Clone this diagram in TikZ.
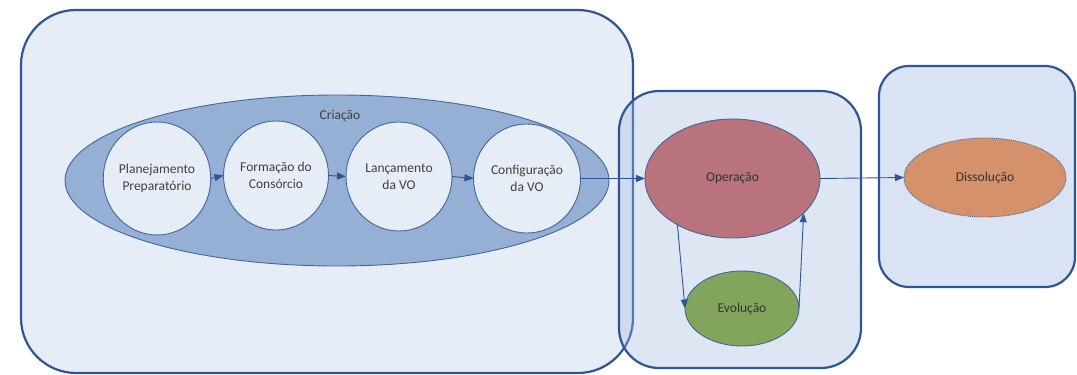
\documentclass[tikz,border=0pt]{standalone}
\usepackage{fontspec}
\setmainfont{Carlito}
\usetikzlibrary{shapes.geometric,arrows.meta}
\definecolor{frame}{HTML}{2F5597}
\definecolor{boxone}{HTML}{E7EDF7}
\definecolor{boxtint}{HTML}{A1B8E0}
\definecolor{boxthree}{HTML}{DAE3F3}
\definecolor{phase}{HTML}{95B0D4}
\definecolor{edge}{HTML}{41679C}
\definecolor{stepfill}{HTML}{E7EDF7}
\definecolor{opfill}{HTML}{B8737C}
\definecolor{evofill}{HTML}{82A55B}
\definecolor{disfill}{HTML}{D4916A}
\definecolor{txt}{HTML}{404040}
\tikzset{
  stage/.style={draw=frame, line width=2.2pt, rectangle, inner sep=0pt, outer sep=0pt},
  blob/.style={ellipse, draw=edge, line width=0.9pt, inner sep=0pt, outer sep=0pt,
    text=txt, align=center, font=\fontsize{13.5}{16.5}\selectfont},
  stepnode/.style={blob, fill=stepfill},
  flow/.style={draw=frame, line width=0.9pt, -{Triangle[length=9pt,width=7pt]}},
}
\begin{document}
\begin{tikzpicture}[x=1pt,y=-1pt]
\useasboundingbox (0,0) rectangle (1077,375);
% phase containers
\node[stage, fill=boxone, rounded corners=55pt, minimum width=612pt, minimum height=363pt] (criacaobox) at (327,191.5) {};
\node[stage, fill=boxtint, fill opacity=0.35, rounded corners=40pt, minimum width=242pt, minimum height=277pt] (opbox) at (740,229.5) {};
\node[stage, fill=boxthree, rounded corners=30pt, minimum width=196pt, minimum height=221pt] (disbox) at (977,176.5) {};
% creation phase
\node[blob, fill=phase, draw=edge, minimum width=544pt, minimum height=171pt] (criacao) at (337,180.5) {};
\node[text=txt, font=\fontsize{13.5}{16.5}\selectfont] (criacaolbl) at (340,116) {Criação};
\node[stepnode, minimum width=107pt, minimum height=113pt] (c1) at (157,178.5) {Planejamento\\Preparatório};
\node[stepnode, minimum width=105pt, minimum height=109pt] (c2) at (276,175.5) {Formação do\\Consórcio};
\node[stepnode, minimum width=106pt, minimum height=109pt] (c3) at (399,176.5) {Lançamento\\da VO};
\node[stepnode, minimum width=107pt, minimum height=109pt] (c4) at (527,178.5) {Configuração\\da VO};
% operation and dissolution
\node[blob, fill=opfill, minimum width=175pt, minimum height=119pt, text=black!80] (op) at (732.5,178.5) {Operação};
\node[blob, fill=evofill, minimum width=114pt, minimum height=75pt, text=black!80] (evo) at (742,308.5) {Evolução};
\node[blob, fill=disfill, densely dotted, minimum width=162pt, minimum height=79pt, text=black!80] (dis) at (985,177.5) {Dissolução};
% connectors
\draw[flow] (c1.east) -- (c2.west);
\draw[flow] (c2.east) -- (c3.west);
\draw[flow] (c3.east) -- (c4.west);
\draw[flow] (c4.east) -- (op.west);
\draw[flow] (op.east) -- (dis.west);
\draw[flow] (op.220) -- (evo.west);
\draw[flow] (evo.east) -- (op.334);
\end{tikzpicture}
\end{document}
